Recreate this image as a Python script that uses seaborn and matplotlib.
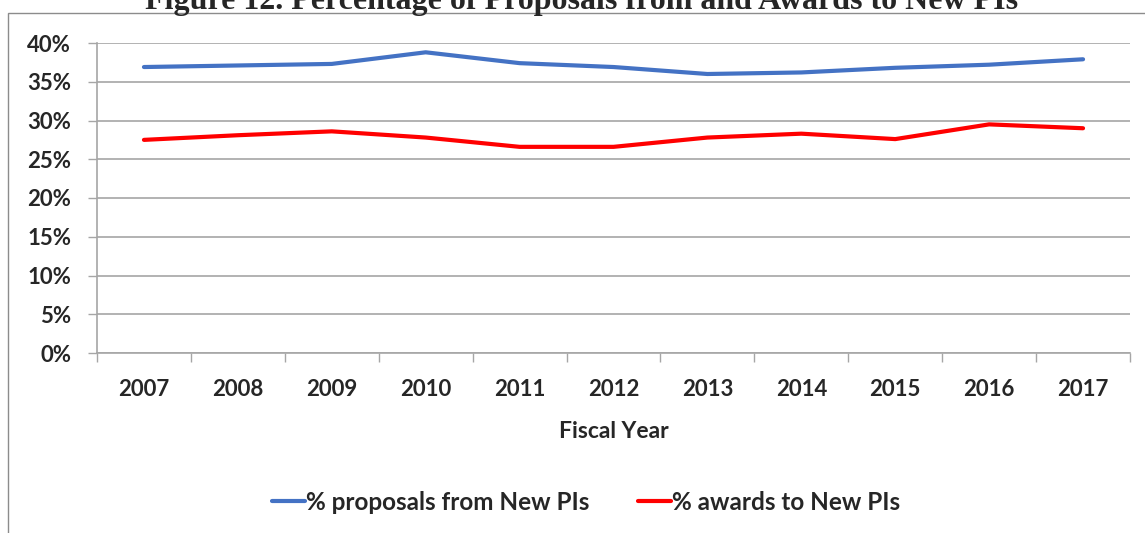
import pandas as pd
import numpy as np
import matplotlib
matplotlib.use('Agg')
import matplotlib.pyplot as plt
import seaborn as sns
from matplotlib.patches import Rectangle
from matplotlib.ticker import FuncFormatter

years = ['2007', '2008', '2009', '2010', '2011', '2012', '2013', '2014', '2015', '2016', '2017']
pct_proposals = [36.9, 37.1, 37.3, 38.8, 37.4, 36.9, 36.0, 36.2, 36.8, 37.2, 37.9]
pct_awards = [27.5, 28.1, 28.6, 27.8, 26.6, 26.6, 27.8, 28.3, 27.6, 29.5, 29.0]
series_names = ['% proposals from New PIs', '% awards to New PIs']
y_ticks = [0, 5, 10, 15, 20, 25, 30, 35, 40]

df = pd.DataFrame({
    'Fiscal Year': years * 2,
    'pos': list(range(len(years))) * 2,
    'valor': pct_proposals + pct_awards,
    'serie': [series_names[0]] * len(years) + [series_names[1]] * len(years),
})

sns.set_theme(style='white')
plt.rcParams['font.family'] = ['Lato', 'DejaVu Sans']

fig = plt.figure(figsize=(11.45, 5.33), dpi=100)
ax = fig.add_axes([97 / 1145, 1 - 353 / 533, (1130 - 97) / 1145, (353 - 43) / 533])

# borda do gráfico
fig.patches.append(Rectangle((8 / 1145, -0.1), 1.2, 1 - 13 / 533 + 0.1, transform=fig.transFigure,
                             fill=False, edgecolor='#8c8c8c', lw=1.0))

sns.lineplot(data=df, x='pos', y='valor', hue='serie', palette=['#4472C4', '#FF0000'],
             linewidth=3, ax=ax, legend=False)

ax.set_xlim(-0.5, len(years) - 0.5)
ax.set_ylim(0, 40)
ax.set_yticks(y_ticks)
ax.yaxis.set_major_formatter(FuncFormatter(lambda v, p: f'{v:.0f}%'))
ax.grid(axis='y', color='#a6a6a6', lw=1.2)
ax.set_axisbelow(True)

ax.set_xticks(np.arange(len(years)))
ax.set_xticklabels(years)
ax.set_xticks(np.arange(len(years) + 1) - 0.5, minor=True)
ax.tick_params(axis='x', which='major', length=0, pad=19, labelsize=16)
ax.tick_params(axis='x', which='minor', length=6.5, width=1, color='#a6a6a6', bottom=True, direction='out')
ax.tick_params(axis='y', length=6.5, width=1, color='#a6a6a6', left=True, direction='out', pad=12, labelsize=16)
for lab in ax.get_xticklabels() + ax.get_yticklabels():
    lab.set_fontweight('bold')

for s in ['top', 'right']:
    ax.spines[s].set_visible(False)
for s in ['left', 'bottom']:
    ax.spines[s].set_color('#a6a6a6')
    ax.spines[s].set_linewidth(1.2)

ax.set_xlabel('Fiscal Year', fontsize=16.5, fontweight='bold', labelpad=15)
ax.set_ylabel('')

handles = [plt.Line2D([], [], color='#4472C4', lw=3), plt.Line2D([], [], color='#FF0000', lw=3)]
fig.legend(handles, series_names, loc='center', bbox_to_anchor=(0.512, 1 - 502 / 533), ncol=2,
           frameon=False, prop={'weight': 'bold', 'size': 17.5}, handlelength=1.35,
           handletextpad=0.05, columnspacing=2.0)

fig.text(0.508, 1 - 9 / 533, 'Figure 12. Percentage of Proposals from and Awards to New PIs',
         ha='center', va='baseline', fontsize=23, fontweight='bold', family='Liberation Serif')

plt.savefig('out.png', dpi=100)
